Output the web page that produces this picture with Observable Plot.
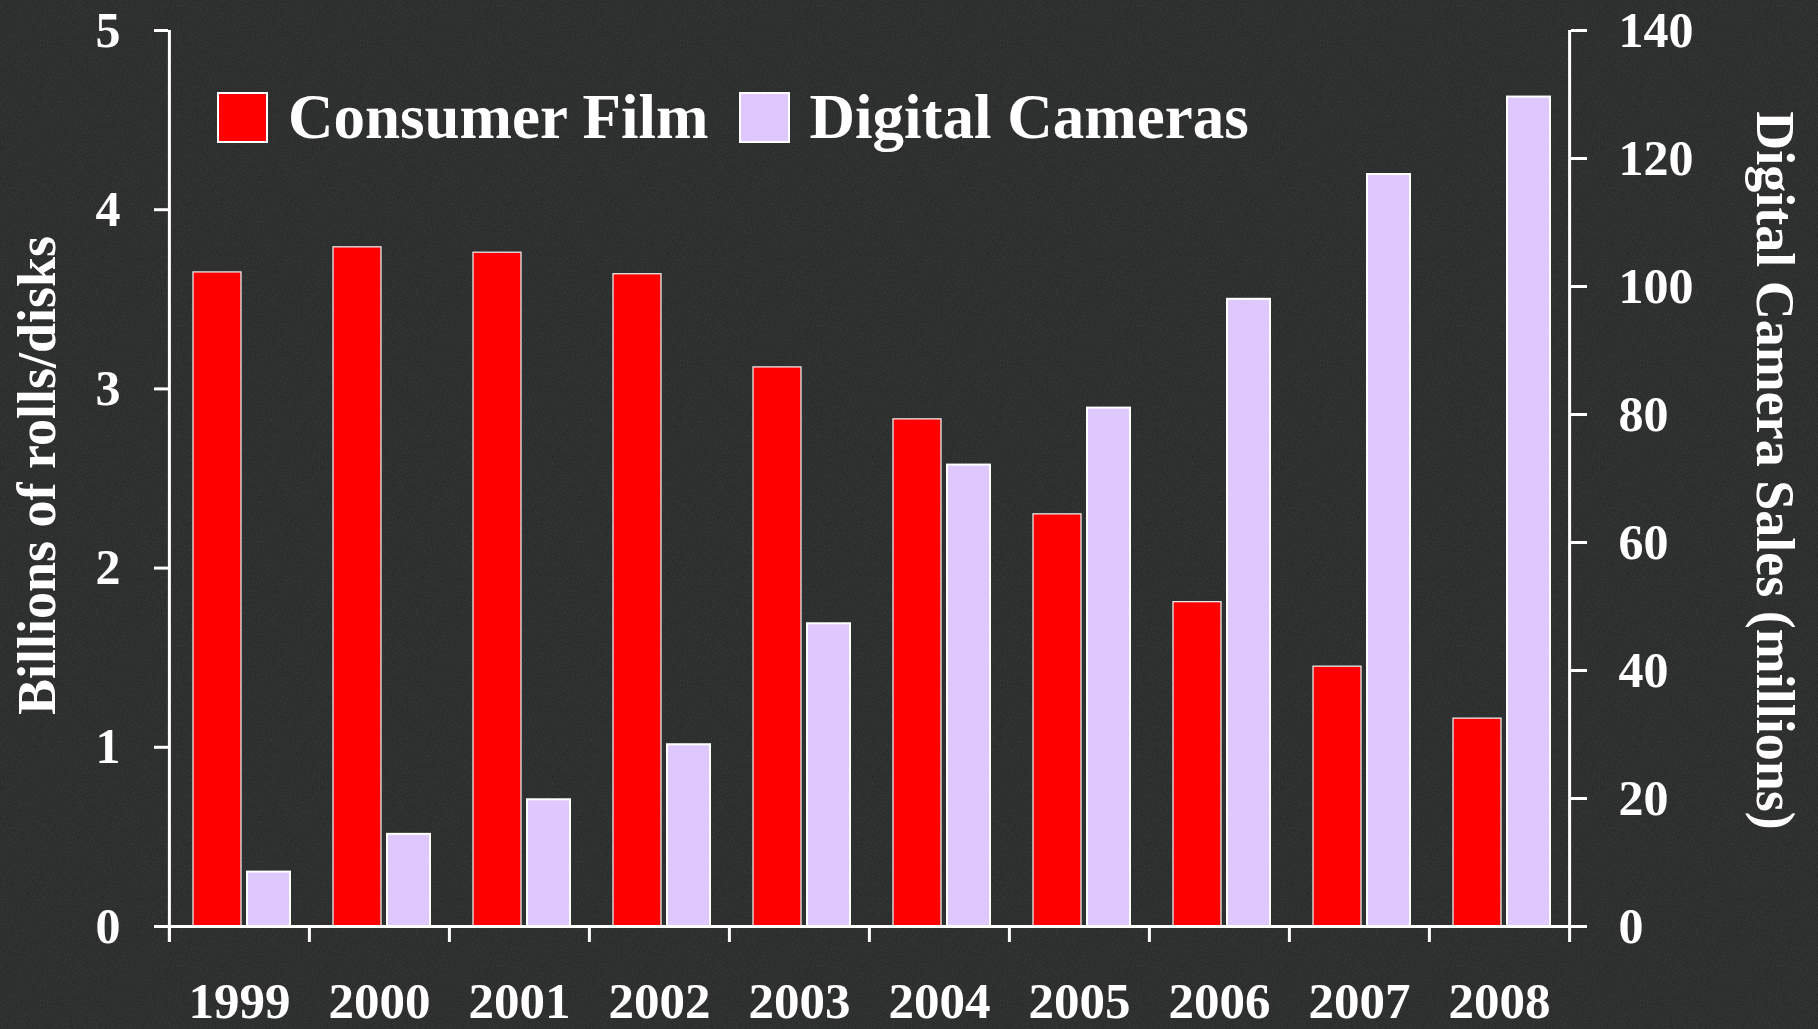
<!DOCTYPE html>
<html>
<head>
<meta charset="utf-8">
<script src="https://cdn.jsdelivr.net/npm/d3@7"></script>
<script src="https://cdn.jsdelivr.net/npm/@observablehq/plot@0.6"></script>
<style>
  html, body { margin: 0; padding: 0; background: #232525; }
  #wrap { position: relative; width: 1818px; height: 1029px; overflow: hidden; background: #242626; }
  #tex { position: absolute; left: 0; top: 0; }
  #chart { position: absolute; left: 0; top: 0; }
  #legend { position: absolute; left: 217px; top: 86px; display: flex; align-items: center;
            font-family: "Liberation Serif", "Times New Roman", serif; font-weight: bold;
            font-size: 63px; line-height: 1; color: #fff; }
  .item { display: flex; align-items: center; margin-right: 30px; }
  .sw { width: 47px; height: 47px; border: 2px solid #fff; margin-right: 20px; }
</style>
</head>
<body>
<div id="wrap">
  <svg id="tex" width="1818" height="1029">
    <filter id="noise" x="0" y="0" width="100%" height="100%">
      <feTurbulence type="fractalNoise" baseFrequency="0.8" numOctaves="3" seed="4"/>
      <feColorMatrix type="saturate" values="0"/>
    </filter>
    <rect width="1818" height="1029" filter="url(#noise)" opacity="0.14"/>
  </svg>
  <div id="chart"></div>
  <div id="legend"></div>
</div>
<script>
// ---- data ----
const years = ["1999", "2000", "2001", "2002", "2003", "2004", "2005", "2006", "2007", "2008"];
const filmRolls = [3.65, 3.79, 3.76, 3.64, 3.12, 2.83, 2.30, 1.81, 1.45, 1.16];      // billions of rolls/disks
const cameraSales = [8.5, 14.4, 19.8, 28.4, 47.3, 72.1, 81.0, 98.0, 117.5, 129.6];  // millions
const leftTicks = [0, 1, 2, 3, 4, 5];
const rightTicks = [0, 20, 40, 60, 80, 100, 120, 140];
const seriesNames = ["Consumer Film", "Digital Cameras"];
const seriesColors = ["#ff0000", "#dfc8fd"];
const leftTitle = "Billions of rolls/disks";
const rightTitle = "Digital Camera Sales (millions)";

const leftMax = 5, rightMax = 140;
const toLeft = v => v * leftMax / rightMax;
const rows = years.map((year, i) => ({year, film: filmRolls[i], camera: cameraSales[i]}));

const font = '"Liberation Serif", "Times New Roman", serif';
const W = 1818, H = 1029, mL = 168, mR = 248, mT = 30, mB = 103;
const band = (W - mL - mR) / years.length;
const axisStyle = {stroke: "white", strokeWidth: 3};

const chart = Plot.plot({
  width: W, height: H,
  marginLeft: mL, marginRight: mR, marginTop: mT, marginBottom: mB,
  style: {background: "transparent", color: "white", fontFamily: font, fontWeight: "bold", overflow: "visible"},
  x: {domain: years, padding: 0, axis: null},
  y: {domain: [0, leftMax], axis: null},
  marks: [
    Plot.barY(rows, {x: "year", y: "film", fill: seriesColors[0], stroke: "#e8e8e8", strokeWidth: 1.3, insetLeft: 24, insetRight: 68}),
    Plot.barY(rows, {x: "year", y: d => toLeft(d.camera), fill: seriesColors[1], stroke: "#ffffff", strokeWidth: 2, insetLeft: 78, insetRight: 19}),
    Plot.ruleY([0], axisStyle),
    Plot.ruleX(years, {x: d => d, dx: -band / 2, y1: 0, y2: 0, insetBottom: -16, ...axisStyle}),
    Plot.ruleX([years[0]], {x: d => d, dx: -band / 2, y1: leftMax, y2: 0, insetBottom: -16, ...axisStyle}),
    Plot.ruleX([years[years.length - 1]], {x: d => d, dx: band / 2, y1: leftMax, y2: 0, insetBottom: -16, ...axisStyle}),
    Plot.axisY({anchor: "left", ticks: leftTicks, tickFormat: d => d, tickSize: 14, tickPadding: 34, fontSize: 50, strokeWidth: 3, label: null}),
    Plot.axisY({anchor: "right", ticks: rightTicks.map(toLeft), tickFormat: d => Math.round(d * rightMax / leftMax),
                tickSize: 16, tickPadding: 32, fontSize: 50, strokeWidth: 3, label: null}),
    Plot.axisX({anchor: "bottom", tickSize: 0, tickPadding: 55, fontSize: 51, label: null}),
    Plot.text([leftTitle], {text: d => d, frameAnchor: "left", textAnchor: "middle", rotate: -90, dx: -131, dy: -3, fontSize: 54, fill: "white"}),
    Plot.text([rightTitle], {text: d => d, frameAnchor: "right", textAnchor: "middle", rotate: 90, dx: 204, dy: -8, fontSize: 54, fill: "white"})
  ]
});
document.getElementById("chart").appendChild(chart);

const legend = document.getElementById("legend");
seriesNames.forEach((name, i) => {
  const item = document.createElement("div");
  item.className = "item";
  const sw = document.createElement("div");
  sw.className = "sw";
  sw.style.background = seriesColors[i];
  const label = document.createElement("span");
  label.textContent = name;
  item.appendChild(sw);
  item.appendChild(label);
  legend.appendChild(item);
});
</script>
</body>
</html>
